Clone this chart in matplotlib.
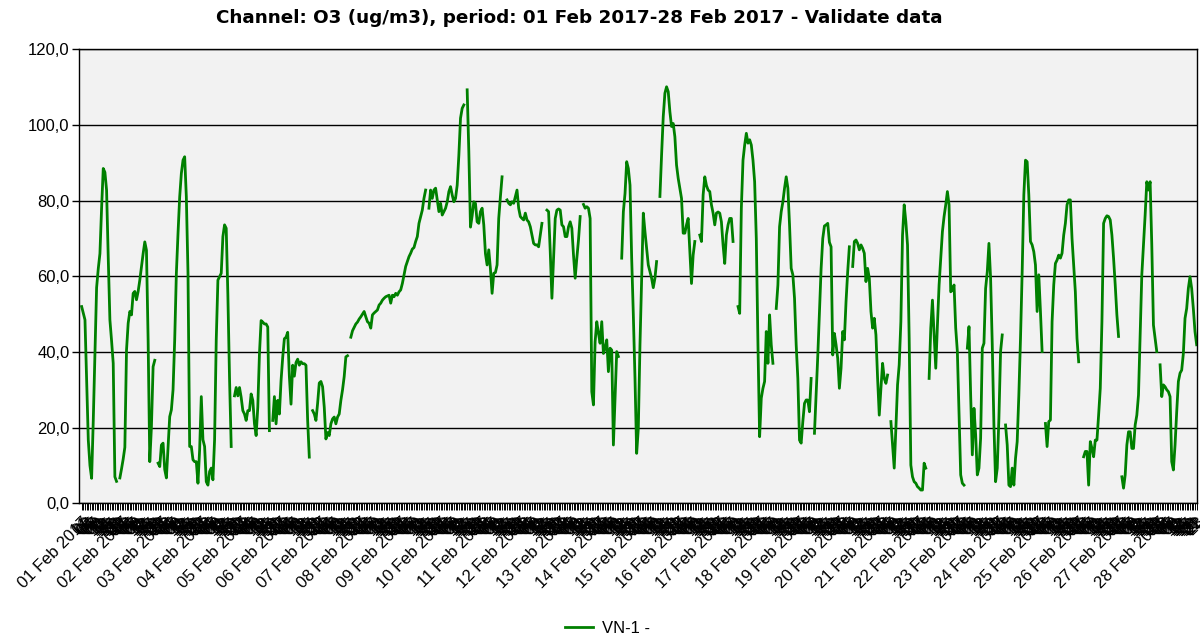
import numpy as np
import matplotlib
matplotlib.use("Agg")
import matplotlib.pyplot as plt

# hourly O3 values (ug/m3), None = missing hour; one line per day
week1 = [
    52.0, 50.3, 48.5, 33.0, 16.7, 10.0, 6.6, 22.0, 40.0, 57.0, 62.0, 66.0, 78.0, 88.5, 87.5, 82.8, 65.0, 48.5, 43.0, 37.0, 7.0, 5.8, None, 6.7,
    9.1, 11.7, 14.8, 40.5, 47.6, 50.7, 49.8, 55.5, 56.0, 53.8, 56.0, 59.0, 62.6, 66.0, 69.1, 66.9, 43.2, 11.0, 20.3, 36.1, 37.8, None, 10.6, 9.7,
    15.4, 15.9, 8.9, 6.7, 15.0, 22.9, 24.7, 30.0, 43.2, 60.8, 71.4, 81.0, 87.2, 90.7, 91.6, 81.0, 60.8, 15.0, 15.0, 11.5, 11.0, 11.0, 5.3, 14.1,
    28.2, 16.8, 15.0, 5.7, 4.8, 8.4, 9.3, 6.2, 16.8, 43.2, 59.0, 59.9, 60.8, 70.5, 73.6, 72.7, 55.0, 33.0, 15.0, None, 28.4, 30.6, 28.4, 30.6,
    28.0, 24.5, 23.6, 21.9, 24.5, 24.5, 28.9, 27.2, 21.0, 17.9, 25.4, 39.5, 48.3, 47.9, 47.4, 47.4, 46.6, 19.2, None, 21.9, 28.2, 21.0, 27.2, 23.6,
    32.4, 38.6, 43.5, 43.9, 45.2, 33.6, 26.2, 36.5, 33.6, 37.2, 38.1, 36.5, 37.4, 36.9, 36.9, 36.5, 22.0, 12.2, None, 24.5, 23.6, 21.9, 26.4, 31.8,
    32.2, 30.8, 25.4, 17.0, 18.7, 17.9, 21.0, 22.3, 22.8, 21.0, 22.8, 23.6, 27.2, 30.0, 33.5, 38.7, 39.0, None, 43.9, 45.6, 46.5, 47.4, 47.9, 48.7,
]
week2 = [
    49.3, 50.0, 50.7, 49.3, 48.0, 47.6, 46.3, 49.8, 50.3, 50.7, 51.1, 52.4, 52.9, 53.7, 54.2, 54.6, 54.8, 55.0, 52.9, 55.0, 54.6, 55.5, 55.0, 55.9,
    56.4, 58.1, 60.4, 62.6, 63.9, 65.2, 66.1, 67.2, 67.6, 69.2, 70.5, 74.0, 75.8, 77.5, 80.6, 82.8, None, 78.0, 82.8, 80.6, 82.8, 83.3, 80.2, 77.1,
    79.3, 76.2, 77.1, 78.0, 79.7, 82.4, 83.7, 81.5, 79.7, 80.6, 84.1, 92.0, 101.8, 104.4, 105.3, None, 109.3, 93.0, 73.0, 76.0, 79.7, 79.3, 74.4, 74.0,
    77.1, 78.0, 73.6, 66.0, 63.0, 67.0, 62.0, 55.5, 60.8, 61.0, 63.0, 75.3, 81.0, 86.3, None, None, 80.2, 79.3, 78.9, 79.7, 79.3, 81.1, 82.8, 78.0,
    75.8, 75.3, 74.9, 76.7, 74.9, 74.4, 73.1, 70.9, 68.7, 68.3, 68.3, 67.8, 70.9, 74.0, None, None, 77.5, 77.1, 66.5, 54.2, 64.8, 75.3, 77.5, 77.8,
    77.5, 73.6, 73.1, 70.5, 70.5, 73.1, 74.4, 72.7, 65.6, 59.5, 64.8, 69.6, 75.8, None, 79.0, 78.0, 78.4, 78.0, 75.3, 29.5, 26.0, 42.7, 48.0, 45.0,
    42.3, 48.0, 39.6, 41.0, 43.2, 34.8, 41.0, 40.5, 15.4, 28.0, 40.1, 38.8, None, 64.8, 77.1, 81.9, 90.3, 88.5, 84.1, 64.8, 49.8, 33.0, 13.2, 19.8,
]
week3 = [
    41.9, 59.5, 76.7, 71.8, 67.4, 63.0, 61.2, 59.5, 57.0, 59.5, 63.9, None, 81.1, 92.1, 102.2, 108.4, 110.1, 108.8, 103.5, 99.6, 100.4, 96.9, 89.4, 85.9,
    83.3, 80.6, 71.4, 71.4, 73.6, 75.3, 66.5, 58.1, 65.6, 69.2, None, None, 70.9, 69.2, 81.5, 86.3, 84.0, 82.8, 82.4, 78.9, 76.7, 73.6, 76.7, 77.0,
    76.7, 74.4, 68.3, 63.4, 70.9, 73.6, 75.3, 75.3, 69.2, None, None, 52.0, 50.2, 78.0, 90.7, 94.7, 97.8, 95.2, 96.1, 94.7, 90.7, 85.0, 70.0, 41.9,
    17.6, 27.8, 30.4, 32.2, 45.4, 37.0, 49.8, 41.9, 37.0, None, 51.5, 57.7, 73.1, 77.1, 79.7, 83.3, 86.3, 83.3, 73.6, 62.1, 60.4, 54.2, 41.9, 33.0,
    16.7, 15.9, 21.6, 26.4, 27.3, 27.3, 24.2, 33.0, None, 18.5, 28.6, 39.0, 50.5, 62.0, 70.0, 73.3, 73.6, 74.0, 69.0, 67.8, 39.2, 44.9, 41.9, 38.3,
    30.4, 35.7, 45.4, 43.2, 53.3, 61.2, 67.8, None, 62.6, 69.2, 69.6, 68.7, 67.0, 68.3, 67.4, 66.1, 58.6, 62.1, 59.5, 50.7, 46.3, 48.9, 44.5, 33.0,
    23.3, 30.4, 37.0, 33.0, 31.7, 33.9, None, 21.6, 15.4, 9.3, 19.8, 31.3, 36.6, 48.0, 70.9, 78.9, 74.4, 68.3, 43.6, 10.1, 7.0, 5.7, 5.3, 4.4,
]
week4 = [
    4.0, 3.5, 3.5, 10.6, 9.3, None, 33.0, 46.3, 53.7, 44.5, 35.7, 47.1, 57.7, 64.8, 71.8, 75.8, 78.9, 82.4, 78.9, 55.9, 56.4, 57.7, 46.3, 40.1,
    24.2, 7.5, 5.3, 4.8, None, 41.0, 46.7, 28.6, 12.8, 25.1, 18.1, 7.5, 9.3, 17.2, 41.0, 42.3, 56.8, 61.2, 68.7, 59.5, 41.9, 20.7, 5.7, 9.3,
    22.5, 40.1, 44.5, None, 20.7, 15.4, 4.8, 4.4, 9.3, 4.8, 11.9, 16.3, 28.6, 43.6, 61.2, 81.5, 90.7, 90.3, 81.5, 69.2, 68.3, 66.5, 63.0, 50.7,
    60.4, 50.7, 40.1, None, 21.1, 15.0, 21.6, 22.0, 48.0, 57.7, 63.4, 64.3, 65.6, 64.8, 66.1, 70.9, 74.0, 78.9, 80.2, 80.2, 70.0, 63.0, 55.9, 43.6,
    37.4, None, None, 12.3, 13.7, 13.7, 4.8, 16.3, 14.5, 12.3, 16.7, 16.7, 23.3, 30.4, 48.0, 74.0, 75.3, 76.0, 75.8, 74.9, 70.9, 64.8, 57.7, 49.8,
    44.1, None, 7.0, 4.0, 7.5, 15.4, 18.9, 18.9, 14.5, 14.5, 20.7, 23.3, 28.6, 44.5, 60.4, 68.3, 76.2, 85.0, 82.8, 85.0, 68.3, 47.1, 43.6, 40.1,
    None, 36.6, 28.2, 31.3, 30.8, 30.0, 29.5, 28.2, 11.0, 8.8, 15.4, 24.2, 32.2, 34.4, 35.2, 39.6, 48.9, 51.5, 56.8, 59.9, 56.8, 51.5, 45.4, 41.9,
]

days = [f"{d:02d} Feb 2017" for d in range(1, 29)]
hours = [f"{h:02d}" for h in range(24)]

values = np.array(week1 + week2 + week3 + week4, dtype=float)
x = np.arange(len(values))
labels = [days[i // 24] if i % 24 == 0 else hours[i % 24] for i in x]

fig = plt.figure(figsize=(12, 6.39), dpi=100)
ax = fig.add_axes([0.0661, 0.2124, 0.9318, 0.7104])
ax.set_facecolor("#f2f2f2")

ax.plot(x, values, color="#008000", lw=2.0, label="VN-1 -")

ax.set_ylim(0, 120)
ax.set_yticks(np.arange(0, 121, 20))
ax.set_yticklabels([f"{v:.1f}".replace(".", ",") for v in np.arange(0, 121, 20)],
                   fontsize=12, family="Liberation Sans")
ax.yaxis.grid(True, color="black", lw=1.0)
ax.set_axisbelow(True)

ax.set_xlim(-1.4, len(values) - 0.5)
ax.set_xticks(x)
ax.set_xticklabels(labels, rotation=45, ha="right", rotation_mode="anchor",
                   fontsize=12, family="Liberation Sans")
ax.tick_params(axis="x", length=5, width=0.7, pad=3)
ax.tick_params(axis="y", length=5, width=1, pad=2)
for s in ax.spines.values():
    s.set_color("black")
    s.set_linewidth(1.0)

fig.text(0.483, 0.972, "Channel: O3 (ug/m3), period: 01 Feb 2017-28 Feb 2017 - Validate data",
         ha="center", va="center", fontsize=13.2, fontweight="bold", family="DejaVu Sans")

fig.legend(loc="center", bbox_to_anchor=(0.506, 0.016), frameon=False,
           prop={"family": "Liberation Sans", "size": 12}, handlelength=1.7,
           handletextpad=0.5)

fig.savefig("out.png", dpi=100)
